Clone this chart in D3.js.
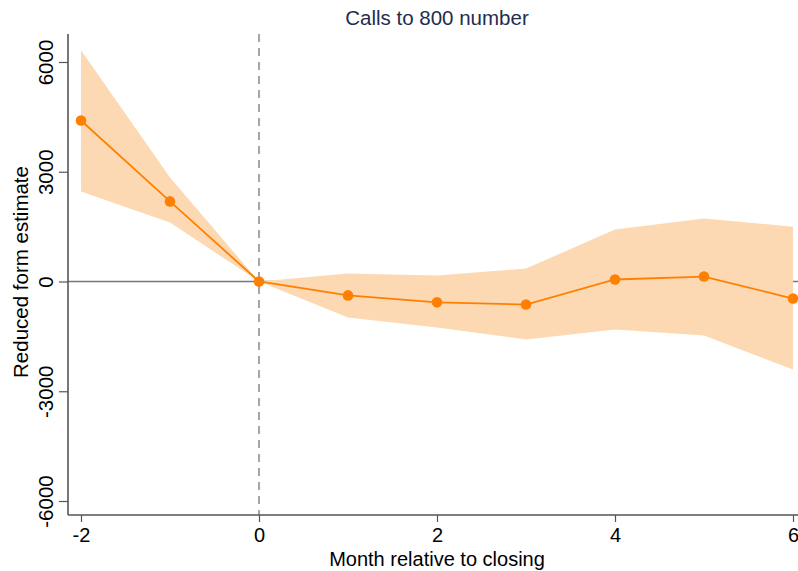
<!DOCTYPE html>
<html><head><meta charset="utf-8">
<script src="https://cdn.jsdelivr.net/npm/d3@7"></script>
<style>body{margin:0;background:#fff}svg{display:block}text{font-family:"Liberation Sans",Arial,Helvetica,sans-serif}</style>
</head><body>
<svg id="c" width="798" height="571"></svg>
<script>
const months = [-2, -1, 0, 1, 2, 3, 4, 5, 6];
const estimate = [4400, 2190, 0, -380, -570, -630, 55, 135, -465];
const upper = [6320, 2840, 0, 220, 165, 355, 1420, 1720, 1500];
const lower = [2460, 1610, 0, -985, -1260, -1585, -1310, -1475, -2405];
const xTicks = [-2, 0, 2, 4, 6];
const yTicks = [-6000, -3000, 0, 3000, 6000];
const title = "Calls to 800 number";
const xTitle = "Month relative to closing";
const yTitle = "Reduced form estimate";

const svg = d3.select("#c");
const x = d3.scaleLinear().domain([-2, 6]).range([81, 793]);
const y = d3.scaleLinear().domain([-6000, 6000]).range([501, 62]);
const axisColor = "#555";
const X0 = 68, Y0 = 515, YTOP = 34, XR = 798;
const fmt = d => String(d);

const data = months.map((m, i) => ({m, e: estimate[i], u: upper[i], l: lower[i]}));

// zero line
svg.append("line").attr("x1", X0).attr("x2", XR).attr("y1", y(0)).attr("y2", y(0))
  .attr("stroke", "#777").attr("stroke-width", 1.3);
// band
svg.append("path").datum(data)
  .attr("fill", "#fdd9b3")
  .attr("d", d3.area().x(d => x(d.m)).y0(d => y(d.l)).y1(d => y(d.u)));

// vertical dashed line at 0
svg.append("line").attr("x1", x(0)).attr("x2", x(0)).attr("y1", YTOP).attr("y2", Y0)
  .attr("stroke", "#888").attr("stroke-width", 1.5).attr("stroke-dasharray", "8,6");

// line
svg.append("path").datum(data)
  .attr("fill", "none").attr("stroke", "#ff8000").attr("stroke-width", 1.8)
  .attr("d", d3.line().x(d => x(d.m)).y(d => y(d.e)));
svg.selectAll("circle.pt").data(data).enter().append("circle")
  .attr("cx", d => x(d.m)).attr("cy", d => y(d.e)).attr("r", 5.3).attr("fill", "#ff8000");

// axes
const yAxis = svg.append("g").attr("transform", `translate(${X0},0)`)
  .call(d3.axisLeft(y).tickValues(yTicks).tickSize(9).tickPadding(6).tickFormat(fmt));
yAxis.select(".domain").remove();
yAxis.append("line").attr("x1", 0).attr("x2", 0).attr("y1", YTOP).attr("y2", Y0).attr("stroke", axisColor).attr("stroke-width", 1.6);
yAxis.selectAll(".tick line").attr("stroke", axisColor).attr("stroke-width", 1.2);
yAxis.selectAll(".tick text").attr("font-size", 20.5).attr("fill", "#000")
  .attr("transform", "rotate(-90)").attr("x", 0).attr("y", -15)
  .attr("text-anchor", "middle").attr("dy", "0");

const xAxis = svg.append("g").attr("transform", `translate(0,${Y0})`)
  .call(d3.axisBottom(x).tickValues(xTicks).tickSize(7).tickPadding(5).tickFormat(fmt));
xAxis.select(".domain").remove();
xAxis.append("line").attr("x1", X0).attr("x2", XR).attr("y1", 0).attr("y2", 0).attr("stroke", axisColor).attr("stroke-width", 1.6);
xAxis.selectAll(".tick line").attr("stroke", axisColor).attr("stroke-width", 1.2);
xAxis.selectAll(".tick text").attr("font-size", 20).attr("fill", "#000")
  .attr("y", 27).attr("dy", "0");

// titles
svg.append("text").attr("x", 437).attr("y", 25).attr("text-anchor", "middle")
  .attr("font-size", 20.5).attr("fill", "#1f2d4f").text(title);
svg.append("text").attr("x", 437).attr("y", 566).attr("text-anchor", "middle")
  .attr("font-size", 20).attr("fill", "#000").text(xTitle);
svg.append("text").attr("transform", `translate(28,272) rotate(-90)`).attr("text-anchor", "middle")
  .attr("font-size", 20.5).attr("fill", "#000").text(yTitle);
</script>
</body></html>
